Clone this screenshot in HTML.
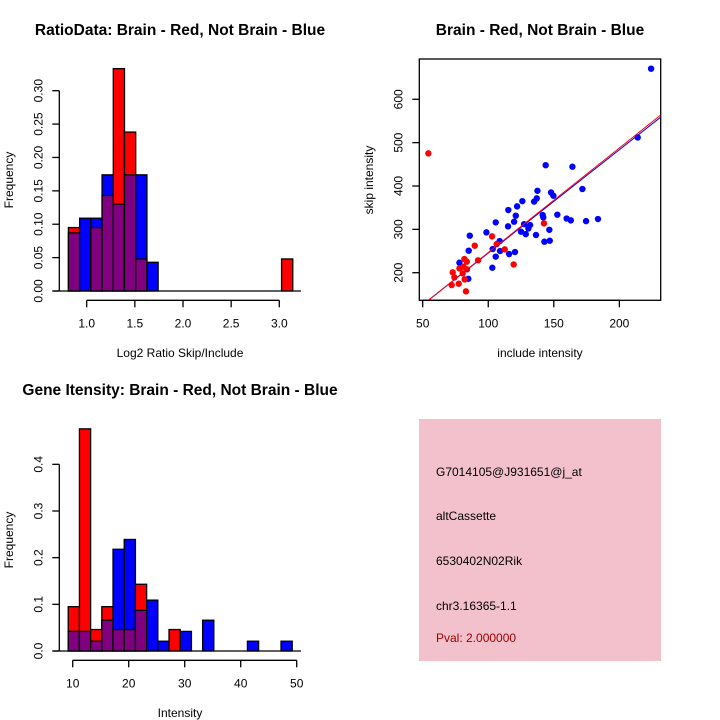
<!DOCTYPE html>
<html><head><meta charset="utf-8"><style>
html,body{margin:0;padding:0;background:#fff}
svg{display:block;font-family:"Liberation Sans",Arial,sans-serif}
</style></head><body>
<svg id="s" width="720" height="720" xmlns="http://www.w3.org/2000/svg">
<rect width="720" height="720" fill="#fff"/>
<g id="p1">
<text x="180" y="35" text-anchor="middle" font-size="15.5" font-weight="bold">RatioData: Brain - Red, Not Brain - Blue</text>
<text x="180" y="357" text-anchor="middle" font-size="12">Log2 Ratio Skip/Include</text>
<text transform="translate(13,180) rotate(-90)" text-anchor="middle" font-size="12">Frequency</text>
</g>
<g id="p2">
<text x="540" y="35" text-anchor="middle" font-size="15.5" font-weight="bold">Brain - Red, Not Brain - Blue</text>
<text x="540" y="357" text-anchor="middle" font-size="12">include intensity</text>
<text transform="translate(373,180) rotate(-90)" text-anchor="middle" font-size="12">skip intensity</text>
</g>
<g id="p3">
<text x="180" y="395" text-anchor="middle" font-size="15.5" font-weight="bold">Gene Itensity: Brain - Red, Not Brain - Blue</text>
<text x="180" y="717" text-anchor="middle" font-size="12">Intensity</text>
<text transform="translate(13,540) rotate(-90)" text-anchor="middle" font-size="12">Frequency</text>
</g>
<g id="p4">
<rect x="419" y="419" width="242" height="242" fill="#f3c1cc"/>
<text x="436" y="476" font-size="12">G7014105@J931651@j_at</text>
<text x="436" y="520" font-size="12">altCassette</text>
<text x="436" y="565" font-size="12">6530402N02Rik</text>
<text x="436" y="610" font-size="12">chr3.16365-1.1</text>
<text x="436" y="642" font-size="12" fill="#a00000">Pval: 2.000000</text>
</g>
</svg>
<script>
// ---- data ----
const ratioBinStart = 0.81;
const ratioBinWidth = 0.1165;
const ratioRed  = [0.095,0,0.095,0.143,0.333,0.238,0.048,0,0,0,0,0,0,0,0,0,0,0,0,0.048];
const ratioBlue = [0.087,0.109,0.109,0.174,0.130,0.174,0.174,0.043,0,0,0,0,0,0,0,0,0,0,0,0];
const ratioXTicks = [1.0,1.5,2.0,2.5,3.0];
const ratioXLabels = ["1.0","1.5","2.0","2.5","3.0"];
const ratioYTicks = [0,0.05,0.10,0.15,0.20,0.25,0.30];
const ratioYLabels = ["0.00","0.05","0.10","0.15","0.20","0.25","0.30"];

const intBinStart = 9.2;
const intBinWidth = 2;
const intRed  = [0.095,0.476,0.046,0.095,0.046,0.046,0.143,0,0,0.046,0,0,0,0,0,0,0,0,0,0];
const intBlue = [0.042,0.042,0.021,0.066,0.218,0.239,0.087,0.109,0.021,0,0.042,0,0.066,0,0,0,0.021,0,0,0.021];
const intXTicks = [10,20,30,40,50];
const intXLabels = ["10","20","30","40","50"];
const intYTicks = [0,0.1,0.2,0.3,0.4];
const intYLabels = ["0.0","0.1","0.2","0.3","0.4"];

const blueX = [224.2,214,143.8,164.2,171.8,137.5,147.9,149.7,137,135,126,122,115.3,121,141.5,142,152.7,159.8,163,174.6,183.7,105.7,119.7,127.3,131.9,130.6,115.1,125,128.6,98.6,85.9,136.4,146.6,142.8,146.9,108.7,85.1,103.4,109,120.4,115.9,105.7,78,103.1,84.8];
const blueY = [670.6,512,448,444.5,393,389,385,377.6,371.5,364,365,353,344.6,331.5,333,327.6,333.8,325,320.7,319,323.8,316,317.6,312,310,302,307,294.6,289,293,285.4,287,299,271.5,273.8,273,250.8,254.6,250,247.7,243,237,223,211.5,186];
const redX = [54.3,102.9,89.7,106.4,112.6,92.2,81.8,83.6,81,78,83.8,72.9,80.5,74.2,82,77.5,72.1,83,119.4,142.5];
const redY = [475.3,283.8,262.3,266,253.8,228.5,231.5,225.4,213.8,210,207.7,200.8,198.5,189,184.6,174.6,171.5,157,219,313.8];
const fitIntercept = [7.0,5.3];
const fitSlope = [2.383,2.412];
const fitColors = ["#0000ff","#ff0000"];
const scatXTicks = [50,100,150,200];
const scatYTicks = [200,300,400,500,600];

const NS="http://www.w3.org/2000/svg";
function mk(parent,tag,attrs){const e=document.createElementNS(NS,tag);for(const k in attrs)e.setAttribute(k,attrs[k]);parent.appendChild(e);return e;}

function histogram(g,opt){
  const sx=v=>opt.x0+(v-opt.vx0)*opt.kx, sy=v=>opt.y0-v*opt.ky;
  const n=opt.red.length;
  for(let i=0;i<n;i++){
    const a=sx(opt.start+i*opt.width), b=sx(opt.start+(i+1)*opt.width);
    const r=opt.red[i], bl=opt.blue[i];
    const hi=Math.max(r,bl), lo=Math.min(r,bl);
    if(hi>0){
      const e=mk(g,'rect',{x:a,y:sy(hi),width:b-a,height:sy(0)-sy(hi),fill:r>=bl?'#ff0000':'#0000ff',stroke:'#000','stroke-width':1.3});
      
      
    }
    if(lo>0){
      const e=mk(g,'rect',{x:a,y:sy(lo),width:b-a,height:sy(0)-sy(lo),fill:'#800080',stroke:'#000','stroke-width':1.3});
      
      
    }
  }
  const bl=mk(g,'line',{x1:opt.axX-6.6,x2:301,y1:sy(0),y2:sy(0),stroke:'#000','stroke-width':1.3});
  
  
  const ya=mk(g,'line',{x1:opt.axX,x2:opt.axX,y1:sy(opt.yt[0]),y2:sy(opt.yt[opt.yt.length-1]),stroke:'#000','stroke-width':1.3});
  
  
  opt.yt.forEach((t,i)=>{
    mk(g,'line',{x1:opt.axX-7,x2:opt.axX,y1:sy(t),y2:sy(t),stroke:'#000','stroke-width':1.3});
    const tx=mk(g,'text',{transform:`translate(${opt.axX-17},${sy(t)}) rotate(-90)`,'text-anchor':'middle','font-size':12});
    tx.textContent=opt.yl[i];
    
    
  });
  const xa=mk(g,'line',{x1:sx(opt.xt[0]),x2:sx(opt.xt[opt.xt.length-1]),y1:opt.axY,y2:opt.axY,stroke:'#000','stroke-width':1.3});
  
  
  opt.xt.forEach((t,i)=>{
    mk(g,'line',{x1:sx(t),x2:sx(t),y1:opt.axY,y2:opt.axY+7,stroke:'#000','stroke-width':1.3});
    const tx=mk(g,'text',{x:sx(t),y:opt.axY+27,'text-anchor':'middle','font-size':12});
    tx.textContent=opt.xl[i];
    
    
  });
}

histogram(document.getElementById('p1'),{x0:86.7,vx0:1.0,kx:96.3,y0:291,ky:667.7,start:ratioBinStart,width:ratioBinWidth,red:ratioRed,blue:ratioBlue,xt:ratioXTicks,xl:ratioXLabels,yt:ratioYTicks,yl:ratioYLabels,axX:59.3,axY:300.3});
histogram(document.getElementById('p3'),{x0:72.7,vx0:10,kx:5.6,y0:651,ky:466.7,start:intBinStart,width:intBinWidth,red:intRed,blue:intBlue,xt:intXTicks,xl:intXLabels,yt:intYTicks,yl:intYLabels,axX:59.3,axY:660.3});

(function(){
  const g=document.getElementById('p2');
  const L=419.3,R=660.7,T=59,B=300.3;
  const sx=v=>422.7+(v-50)*1.311, sy=v=>272.7-(v-200)*0.4335;
  const clip=mk(g,'clipPath',{id:'sc'});
  mk(clip,'rect',{x:L,y:T,width:R-L,height:B-T});
  const box=mk(g,'rect',{x:L,y:T,width:R-L,height:B-T,fill:'none',stroke:'#000','stroke-width':1.3});
  
  
  scatXTicks.forEach(t=>{
    mk(g,'line',{x1:sx(t),x2:sx(t),y1:B,y2:B+7,stroke:'#000','stroke-width':1.3});
    const tx=mk(g,'text',{x:sx(t),y:B+27,'text-anchor':'middle','font-size':12});tx.textContent=t;
    
    
  });
  mk(g,'line',{x1:sx(scatXTicks[0]),x2:sx(scatXTicks[scatXTicks.length-1]),y1:B,y2:B,stroke:'#000','stroke-width':1.3});
  scatYTicks.forEach(t=>{
    mk(g,'line',{x1:L-7,x2:L,y1:sy(t),y2:sy(t),stroke:'#000','stroke-width':1.3});
    const tx=mk(g,'text',{transform:`translate(${L-17},${sy(t)}) rotate(-90)`,'text-anchor':'middle','font-size':12});tx.textContent=t;
    
    
  });
  const pg=mk(g,'g',{'clip-path':'url(#sc)'});
  blueX.forEach((x,i)=>{
    const c=mk(pg,'circle',{cx:sx(x),cy:sy(blueY[i]),r:3.2,fill:'#0000ff'});
    
    
  });
  redX.forEach((x,i)=>{
    const c=mk(pg,'circle',{cx:sx(x),cy:sy(redY[i]),r:3.2,fill:'#ff0000'});
    
    
  });
  fitIntercept.forEach((a,i)=>{
    const b=fitSlope[i];
    const l=mk(pg,'line',{x1:sx(40),y1:sy(a+b*40),x2:sx(240),y2:sy(a+b*240),stroke:fitColors[i],'stroke-width':1});
    
    
  });
})();
</script>
</body></html>
